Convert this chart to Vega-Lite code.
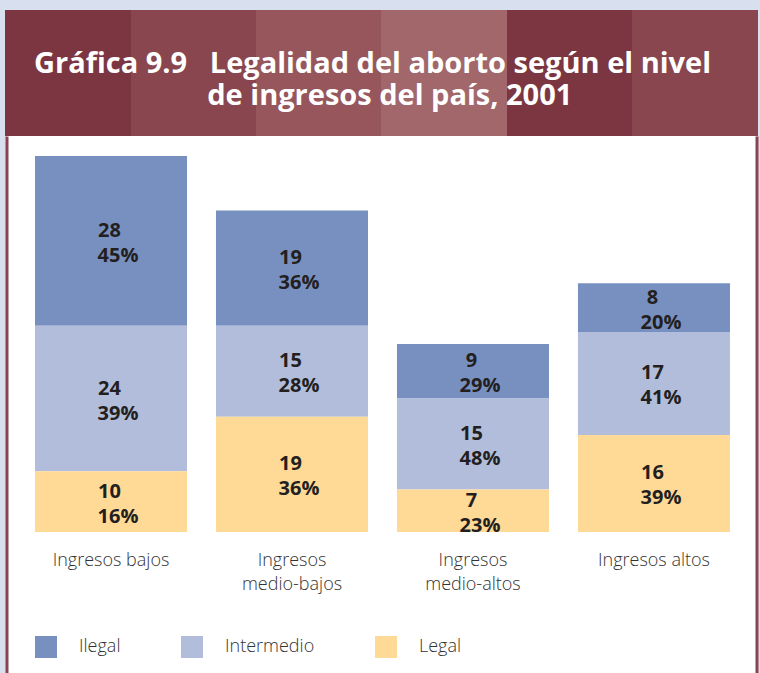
{
  "$schema": "https://vega.github.io/schema/vega-lite/v6.json",
  "background": "#d8dfee",
  "padding": {"left": 5, "top": 10, "right": 2, "bottom": 0},
  "autosize": {"type": "pad"},
  "spacing": 0,
  "bounds": "flush",
  "center": true,
  "config": {"view": {"stroke": null}, "font": "Open Sans"},
  "vconcat": [
    {
      "width": 753,
      "height": 126,
      "data": {"values": [{}]},
      "mark": {
        "type": "rect",
        "fill": {
          "gradient": "linear",
          "x1": 0, "y1": 0, "x2": 1, "y2": 0,
          "stops": [
            {"offset": 0, "color": "#7c3641"},
            {"offset": 0.1667, "color": "#7c3641"},
            {"offset": 0.1667, "color": "#89464e"},
            {"offset": 0.3333, "color": "#89464e"},
            {"offset": 0.3333, "color": "#96565c"},
            {"offset": 0.5, "color": "#96565c"},
            {"offset": 0.5, "color": "#a1676b"},
            {"offset": 0.6667, "color": "#a1676b"},
            {"offset": 0.6667, "color": "#7c3641"},
            {"offset": 0.8333, "color": "#7c3641"},
            {"offset": 0.8333, "color": "#89464e"},
            {"offset": 1, "color": "#89464e"}
          ]
        }
      },
      "encoding": {},
      "title": {
        "text": [
          "Gráfica 9.9\u00a0\u00a0\u00a0Legalidad del aborto según el nivel",
          "\u200b\u00a0\u00a0\u00a0\u00a0\u00a0\u00a0\u00a0\u00a0\u00a0\u00a0\u00a0\u00a0\u00a0\u00a0\u00a0\u00a0\u00a0\u00a0\u00a0\u00a0\u00a0\u00a0\u00a0de ingresos del país, 2001"
        ],
        "orient": "bottom",
        "anchor": "start",
        "frame": "group",
        "baseline": "top",
        "offset": -86,
        "dx": 29,
        "color": "#ffffff",
        "font": "Open Sans",
        "fontSize": 29,
        "fontWeight": "bold",
        "lineHeight": 32
      }
    },
    {
      "width": 750,
      "height": 537,
      "view": {"fill": "#ffffff", "stroke": null},
      "data": {
        "values": [
          {"ingreso": "Ingresos bajos", "tipo": "Ilegal", "paises": 28, "pct": 0.45},
          {"ingreso": "Ingresos bajos", "tipo": "Intermedio", "paises": 24, "pct": 0.39},
          {"ingreso": "Ingresos bajos", "tipo": "Legal", "paises": 10, "pct": 0.16},
          {"ingreso": "Ingresos medio-bajos", "tipo": "Ilegal", "paises": 19, "pct": 0.36},
          {"ingreso": "Ingresos medio-bajos", "tipo": "Intermedio", "paises": 15, "pct": 0.28},
          {"ingreso": "Ingresos medio-bajos", "tipo": "Legal", "paises": 19, "pct": 0.36},
          {"ingreso": "Ingresos medio-altos", "tipo": "Ilegal", "paises": 9, "pct": 0.29},
          {"ingreso": "Ingresos medio-altos", "tipo": "Intermedio", "paises": 15, "pct": 0.48},
          {"ingreso": "Ingresos medio-altos", "tipo": "Legal", "paises": 7, "pct": 0.23},
          {"ingreso": "Ingresos altos", "tipo": "Ilegal", "paises": 8, "pct": 0.20},
          {"ingreso": "Ingresos altos", "tipo": "Intermedio", "paises": 17, "pct": 0.41},
          {"ingreso": "Ingresos altos", "tipo": "Legal", "paises": 16, "pct": 0.39}
        ]
      },
      "encoding": {
        "x": {
          "field": "ingreso",
          "type": "nominal",
          "sort": null,
          "scale": {"paddingInner": 0.16, "paddingOuter": 0.152, "align": 0.518},
          "axis": {
            "orient": "bottom",
            "offset": -141,
            "domain": false,
            "ticks": false,
            "grid": false,
            "title": null,
            "labelAngle": 0,
            "labelFont": "Open Sans",
            "labelFontSize": 18,
            "labelFontWeight": 300,
            "labelColor": "#333333",
            "labelBaseline": "top",
            "labelPadding": 19,
            "labelLineHeight": 24,
            "labelOverlap": false,
            "labelBound": false,
            "labelLimit": 0,
            "labelExpr": "indexof(datum.label, 'medio') >= 0 ? split(datum.label, ' ') : datum.label"
          }
        },
        "order": {"field": "tipo", "sort": "descending"}
      },
      "layer": [
        {
          "mark": {"type": "bar"},
          "encoding": {
            "y": {
              "field": "paises",
              "type": "quantitative",
              "stack": "zero",
              "scale": {"domain": [-23.25, 65.3], "nice": false, "zero": false},
              "axis": {
                "orient": "left",
                "labels": false,
                "ticks": false,
                "grid": false,
                "title": null,
                "domainColor": "#8a4350",
                "domainWidth": 3,
                "minExtent": 0,
                "maxExtent": 0
              }
            },
            "color": {
              "field": "tipo",
              "type": "nominal",
              "scale": {
                "domain": ["Ilegal", "Intermedio", "Legal"],
                "range": ["#7890c0", "#b1bddb", "#ffd996"]
              },
              "legend": {
                "orient": "none",
                "legendX": 30,
                "legendY": 626,
                "direction": "horizontal",
                "title": null,
                "padding": 0,
                "symbolType": "square",
                "symbolSize": 484,
                "symbolStrokeWidth": 0,
                "symbolOpacity": 1,
                "labelFont": "Open Sans",
                "labelFontSize": 18,
                "labelFontWeight": 300,
                "labelColor": "#333333",
                "labelOffset": 22,
                "columnPadding": 60
              }
            }
          }
        },
        {
          "mark": {"type": "text", "align": "center", "baseline": "middle", "dx": -1.5, "dy": -10, "fontSize": 20, "fontWeight": "bold", "color": "#231f20"},
          "encoding": {
            "y": {
              "field": "paises",
              "type": "quantitative",
              "stack": "zero",
              "bandPosition": 0.5,
              "scale": {"domain": [-23.25, 65.3], "nice": false, "zero": false},
              "axis": {
                "orient": "right",
                "labels": false,
                "ticks": false,
                "grid": false,
                "title": null,
                "domainColor": "#8a4350",
                "domainWidth": 3,
                "minExtent": 0,
                "maxExtent": 0
              }
            },
            "detail": {"field": "tipo"},
            "text": {"field": "paises", "type": "quantitative", "format": "d"}
          }
        },
        {
          "mark": {"type": "text", "align": "center", "baseline": "middle", "dx": 7, "dy": 15, "fontSize": 20, "fontWeight": "bold", "color": "#231f20"},
          "encoding": {
            "y": {
              "field": "paises",
              "type": "quantitative",
              "stack": "zero",
              "bandPosition": 0.5,
              "scale": {"domain": [-23.25, 65.3], "nice": false, "zero": false},
              "axis": null
            },
            "detail": {"field": "tipo"},
            "text": {"field": "pct", "type": "quantitative", "format": ".0%"}
          }
        }
      ],
      "resolve": {"axis": {"y": "independent"}}
    }
  ]
}
